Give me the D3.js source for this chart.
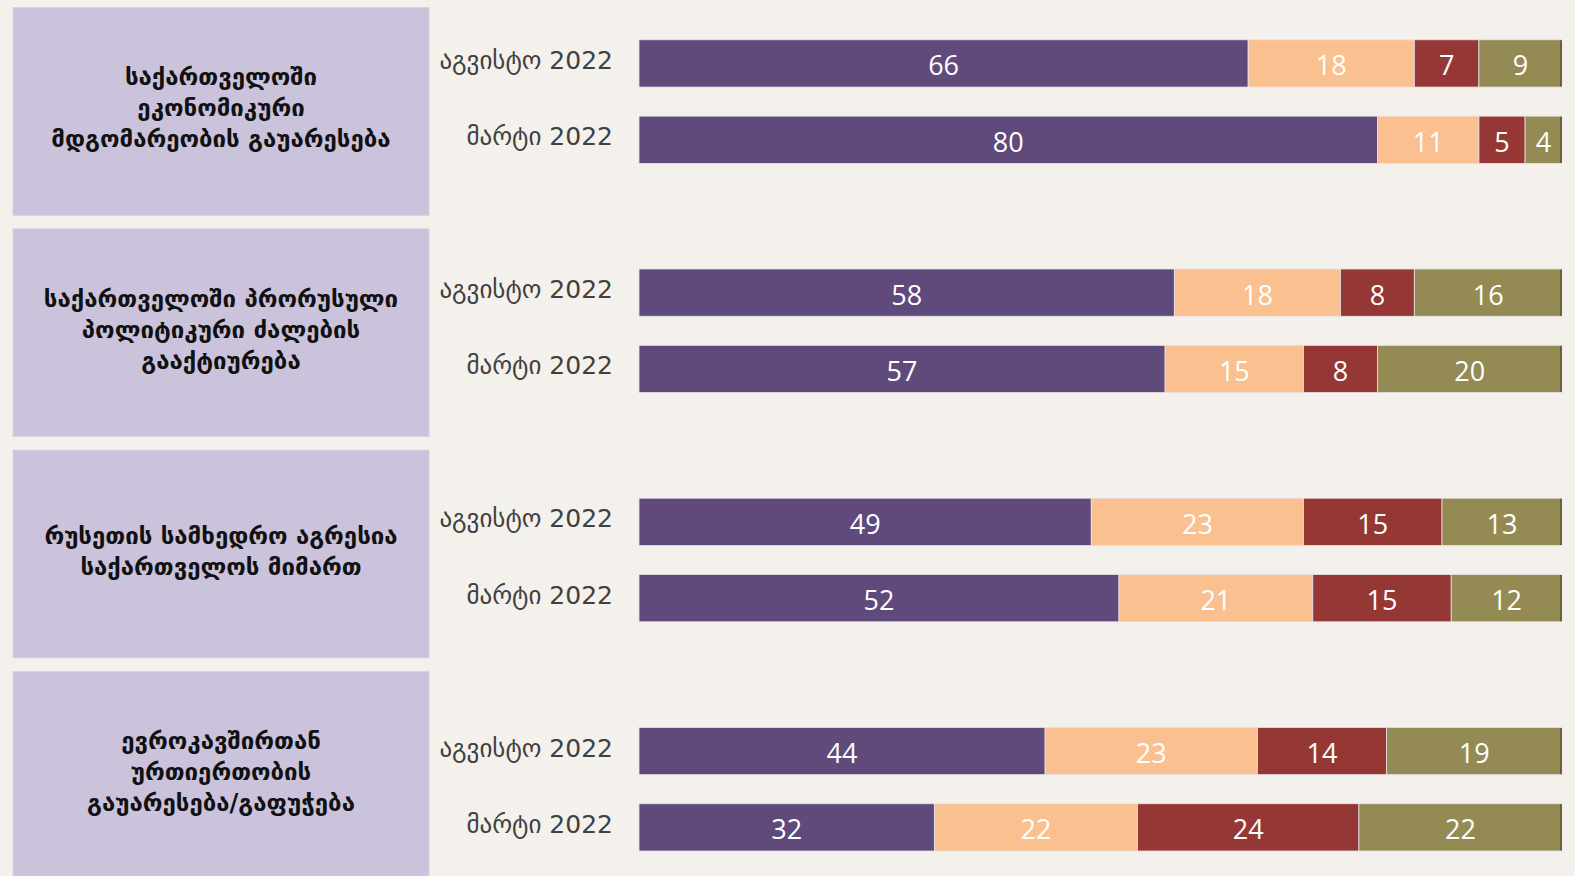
<!DOCTYPE html>
<html>
<head>
<meta charset="utf-8">
<script src="https://cdn.jsdelivr.net/npm/d3@7"></script>
<style>
  html, body { margin: 0; padding: 0; background: #f4f1ec; }
  svg { display: block; }
  .topic { font-family: "DejaVu Sans", sans-serif; font-weight: bold; }
  .period { font-family: "DejaVu Sans", sans-serif; }
  .val { font-family: "Open Sans", sans-serif; }
</style>
</head>
<body>
<svg id="chart" width="1575" height="876"></svg>
<script>
// Topics (one box each), split into display lines
const topics = [
  ["საქართველოში", "ეკონომიკური", "მდგომარეობის გაუარესება"],
  ["საქართველოში პრორუსული", "პოლიტიკური ძალების", "გააქტიურება"],
  ["რუსეთის სამხედრო აგრესია", "საქართველოს მიმართ"],
  ["ევროკავშირთან", "ურთიერთობის", "გაუარესება/გაფუჭება"]
];
const periods = ["აგვისტო 2022", "მარტი 2022"];
const keys = ["k1", "k2", "k3", "k4"];
const colors = ["#604a7b", "#fac090", "#953735", "#948a54"];

// Shares (%) per topic, four answer groups
const august = [
  [66, 18, 7, 9],
  [58, 18, 8, 16],
  [49, 23, 15, 13],
  [44, 23, 14, 19]
];
const march = [
  [80, 11, 5, 4],
  [57, 15, 8, 20],
  [52, 21, 15, 12],
  [32, 22, 24, 22]
];

const svg = d3.select("#chart");

// Topic boxes
const boxStep = 221.3, boxH = 207.8;
const boxY = d3.scaleBand().domain(d3.range(topics.length))
  .range([7.5, 7.5 + boxStep * 3 + boxH]).paddingInner((boxStep - boxH) / boxStep).paddingOuter(0);
const boxG = svg.append("g");
topics.forEach((lines, i) => {
  const y0 = boxY(i), h = boxY.bandwidth();
  boxG.append("rect").attr("x", 13).attr("y", y0).attr("width", 416).attr("height", h)
    .attr("fill", "#cbc2dc").attr("stroke", "#d8d1e6").attr("stroke-width", 1);
  const lh = 31;
  const cy = y0 + h / 2 - 3;
  const t = boxG.append("text").attr("class", "topic")
    .attr("x", 221).attr("text-anchor", "middle")
    .attr("font-size", 24).attr("fill", "#111");
  lines.forEach((ln, j) => {
    t.append("tspan").attr("x", 221)
      .attr("y", cy + (j - (lines.length - 1) / 2) * lh)
      .attr("dominant-baseline", "central").text(ln);
  });
});

// Bars
const x = d3.scaleLinear().domain([0, 100]).range([639, 1562]);
const groupY = d3.scaleBand().domain(d3.range(topics.length))
  .range([25.3, 25.3 + 229.2 * 4]);
const periodY = d3.scaleBand().domain(d3.range(periods.length))
  .range([0, 76.3 * 2]).paddingInner(0.381).paddingOuter(0.19);

const rows = [];
topics.forEach((_, i) => {
  [august[i], march[i]].forEach((vals, p) => {
    const r = { topic: i, period: p };
    keys.forEach((k, j) => r[k] = vals[j]);
    rows.push(r);
  });
});
const stacked = d3.stack().keys(keys)(rows);
const rowY = r => groupY(r.topic) + periodY(r.period);
const bh = periodY.bandwidth();

const barG = svg.append("g");
stacked.forEach((layer, li) => {
  const g = barG.append("g");
  g.selectAll("rect").data(layer).join("rect")
    .attr("x", d => x(d[0]))
    .attr("y", d => rowY(d.data))
    .attr("width", d => x(d[1]) - x(d[0]))
    .attr("height", bh)
    .attr("fill", colors[li])
    .attr("stroke", "#e8e2e8").attr("stroke-width", 0.8);
  g.selectAll("text").data(layer).join("text").attr("class", "val")
    .attr("x", d => (x(d[0]) + x(d[1])) / 2)
    .attr("y", d => rowY(d.data) + bh / 2 + 1.5)
    .attr("text-anchor", "middle").attr("dominant-baseline", "central")
    .attr("font-size", 27).attr("fill", "#ffffff")
    .text(d => d[1] - d[0]);
});
// dark closing edge at the end of each bar
barG.selectAll("line.edge").data(rows).join("line").attr("class", "edge")
  .attr("x1", x(100) - 1).attr("x2", x(100) - 1)
  .attr("y1", r => rowY(r) + 0.5).attr("y2", r => rowY(r) + bh - 0.5)
  .attr("stroke", "#4a4428").attr("stroke-width", 1.3);

// Period labels
svg.append("g").selectAll("text").data(rows).join("text").attr("class", "period")
  .attr("x", 613).attr("y", r => rowY(r) + bh / 2 - 3)
  .attr("text-anchor", "end").attr("dominant-baseline", "central")
  .attr("font-size", 25).attr("fill", "#404040")
  .text(r => periods[r.period]);
</script>
</body>
</html>
